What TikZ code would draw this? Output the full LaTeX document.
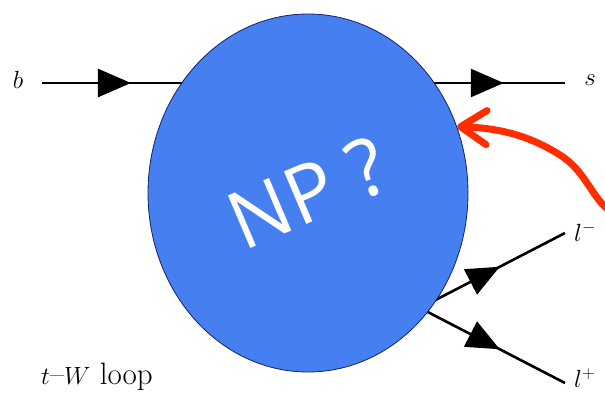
\documentclass[tikz,border=0pt]{standalone}
\usepackage{fontspec}
\newfontfamily\npfont{Open Sans}
\usetikzlibrary{arrows.meta,decorations.markings,shapes.geometric}
\definecolor{npblue}{RGB}{70,128,240}
\definecolor{npedge}{RGB}{20,30,110}
\definecolor{hintred}{RGB}{255,45,0}
\tikzset{
  fermion/.style={line width=2.6pt, black,
    postaction={decorate},
    decoration={markings, mark=at position #1 with {\arrow{Triangle[length=33pt,width=28pt]}}}},
  lbl/.style={inner sep=0pt, font=\fontsize{26}{30}\selectfont},
  blob/.style={ellipse, draw=npedge, line width=0.8pt, fill=npblue, minimum width=320pt, minimum height=358pt, inner sep=0pt,
    text=white, font=\npfont\fontsize{80}{86}\selectfont},
  hint/.style={hintred, line width=7pt, line cap=round, -{Straight Barb[length=26pt,width=34pt,round]}}
}
\begin{document}
\begin{tikzpicture}[x=1pt,y=-1pt]
\useasboundingbox (0,0) rectangle (605,392);
% external legs
\coordinate (bin) at (42,83);
\coordinate (sout) at (565,83);
\coordinate (vtx) at (420,308);
\coordinate (lmend) at (565,233);
\coordinate (lpend) at (565,383);
\coordinate (bmid) at (320,83);
\draw[fermion=0.32] (bin) -- (bmid);
\draw[fermion=0.75] (bmid) -- (sout);
\draw[fermion=0.55] (vtx) -- (lmend);
\draw[fermion=0.55] (vtx) -- (lpend);
% blob with its text
\node[blob] (np) at (308,193) {\raisebox{-4pt}{\rotatebox{23}{NP ?}}};
% labels
\node[lbl] (b) at (18,80) {$b$};
\node[lbl] (s) at (590,80) {$s$};
\node[lbl, anchor=west] (lm) at (574,232) {$l^-$};
\node[lbl, anchor=west] (lp) at (574,378) {$l^+$};
\node[inner sep=0pt, anchor=west, font=\fontsize{31}{34}\selectfont] (loop) at (41,377) {$t$--$W$ loop};
% red hint arrow
\coordinate (redstart) at (612,212);
\draw[hint] (redstart) .. controls (592,200) and (587,172) .. (560,155) .. controls (530,136) and (500,128) .. (np.24);
\end{tikzpicture}
\end{document}
